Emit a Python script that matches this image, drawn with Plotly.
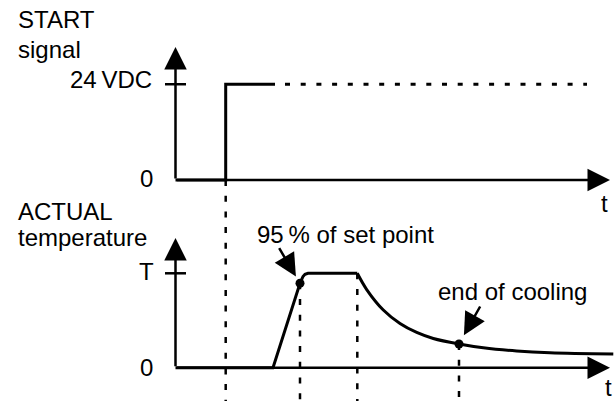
import plotly.graph_objects as go

# ---------------- data (time in arbitrary units) ----------------
# START signal (volts)
signal_t = [0.0, 5.02, 5.02, 9.95]
signal_v = [0, 0, 24, 24]
signal_hold_t = [10.95, 41.15]          # dotted continuation of the 24 VDC level
signal_hold_v = [24, 24]

# ACTUAL temperature (fraction of set point T)
heat_t = [0.0, 9.75, 12.45, 12.6, 12.75, 12.95, 13.25, 18.18]
heat_v = [0, 0, 0.894, 0.929, 0.966, 0.989, 1.0, 1.0]
cool_t = [18.18, 19.12, 20.78, 22.45, 24.12, 25.78, 28.35, 30.78, 34.12, 37.45, 43.78]
cool_v = [1.0, 0.828, 0.611, 0.468, 0.373, 0.309, 0.251, 0.211, 0.177, 0.158, 0.145]

start_time = 5.02
marker_t = [12.45, 28.35]               # 95 % of set point, end of cooling
marker_v = [0.894, 0.251]
hold_end_t = 18.18
hold_end_v = 1.0

# axis extents
t_axis_end = 43.45
v_axis_end = 33.3
temp_axis_end = 1.374
tick_half = 1.05

# ranges
X_RANGE = [-17.55, 43.95]
Y1_RANGE = [-55.39, 45.11]
Y2_RANGE = [-0.3528, 3.895]

FONT = "Liberation Sans, Arial, sans-serif"
FS = 24
LW = 3
AXW = 2.5

fig = go.Figure()

def line(x, y, axis="y", width=LW, dash="solid", shape="linear"):
    fig.add_trace(go.Scatter(x=x, y=y, yaxis=axis, mode="lines",
                             line=dict(color="black", width=width, dash=dash, shape=shape),
                             hoverinfo="skip"))

# dashed event lines
line([start_time, start_time], [0, Y1_RANGE[0]], "y", 2.5, "6px,9.7px")
line([marker_t[0], marker_t[0]], [marker_v[0], Y2_RANGE[0]], "y2", 2.5, "6px,9.7px")
line([hold_end_t, hold_end_t], [hold_end_v, Y2_RANGE[0]], "y2", 2.5, "6px,9.7px")
line([marker_t[1], marker_t[1]], [marker_v[1], Y2_RANGE[0]], "y2", 2.5, "6px,9.7px")

# tick marks
line([-tick_half, tick_half], [24, 24], "y", AXW)
line([-tick_half, tick_half], [1, 1], "y2", AXW)

# signal
line(signal_t, signal_v, "y", LW)
line(signal_hold_t, signal_hold_v, "y", LW, "5px,10.7px")

# temperature
line(heat_t, heat_v, "y2", LW)
line(cool_t, cool_v, "y2", LW, shape="spline")

fig.add_trace(go.Scatter(x=marker_t, y=marker_v, yaxis="y2", mode="markers",
                         marker=dict(color="black", size=9), hoverinfo="skip"))

ann = []
def arrow(x, y, ax, ay, yref, axref="x", standoff=0):
    d = dict(x=x, y=y, xref="x", yref=yref, ax=ax, ay=ay, text="",
             showarrow=True, arrowhead=2, arrowsize=1.8, arrowwidth=AXW,
             arrowcolor="black", standoff=standoff)
    if axref == "x":
        d.update(axref="x", ayref=yref)
    ann.append(d)

# axes with arrowheads
arrow(t_axis_end, 0, 0, 0, "y")
arrow(0, v_axis_end, 0, 0, "y")
arrow(t_axis_end, 0, 0, 0, "y2")
arrow(0, temp_axis_end, 0, 0, "y2")
# pointer arrows
arrow(marker_t[0], marker_v[0], -21.7, -36.6, "y2", axref="pixel", standoff=8)
arrow(marker_t[1], marker_v[1], 22, -39, "y2", axref="pixel", standoff=10)

def txt(s, x, y, xref, yref, xanchor, yshift=0):
    ann.append(dict(text=s, x=x, y=y, xref=xref, yref=yref, xanchor=xanchor,
                    yanchor="middle", showarrow=False, yshift=yshift,
                    font=dict(family=FONT, size=FS, color="black")))

W, H = 615, 401
txt("START", 16 / W, 1 - 19.5 / H, "paper", "paper", "left")
txt("signal", 16 / W, 1 - 49 / H, "paper", "paper", "left")
txt("ACTUAL", 16 / W, 1 - 211.5 / H, "paper", "paper", "left")
txt("temperature", 16 / W, 1 - 237 / H, "paper", "paper", "left")
txt("24\u2009VDC", -2.15, 24, "x", "y", "right", 5)
txt("0", -2.05, 0, "x", "y", "right", 1)
txt("T", -1.95, 1, "x", "y2", "right", 2)
txt("0", -2.05, 0, "x", "y2", "right", 0)
txt("t", 42.85, 0, "x", "y", "center", -24)
txt("t", 43.3, 0, "x", "y2", "center", -19.3)
txt("95\u2009% of set point", 16.95, 1.416, "x", "y2", "center")
txt("end of cooling", 33.7, 0.802, "x", "y2", "center")

fig.update_layout(
    width=W, height=H, margin=dict(l=0, r=0, t=0, b=0),
    paper_bgcolor="white", plot_bgcolor="white", showlegend=False,
    xaxis=dict(range=X_RANGE, visible=False, fixedrange=True),
    yaxis=dict(range=Y1_RANGE, visible=False, fixedrange=True),
    yaxis2=dict(range=Y2_RANGE, visible=False, overlaying="y", fixedrange=True),
    annotations=ann,
)

fig.write_html("out.html", config={"displayModeBar": False},
               post_script="document.body.style.margin='0';")
